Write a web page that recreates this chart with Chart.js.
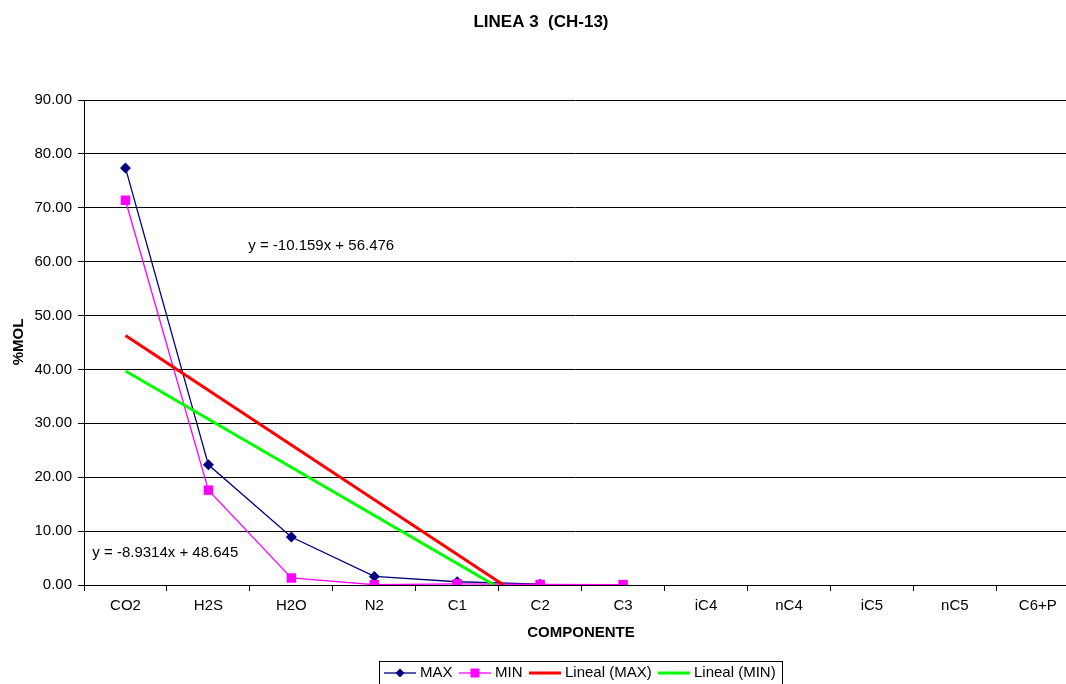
<!DOCTYPE html>
<html>
<head>
<meta charset="utf-8">
<script src="https://cdn.jsdelivr.net/npm/chart.js@4.4.1/dist/chart.umd.min.js"></script>
<style>
	html, body { margin: 0; padding: 0; background: #fff; overflow: hidden; }
	#wrap { width: 1066px; height: 684px; position: relative; }
</style>
</head>
<body>
<div id="wrap"><canvas id="chart-linea"></canvas></div>
<script>
// data
var componentes = ['CO2', 'H2S', 'H2O', 'N2', 'C1', 'C2', 'C3', 'iC4', 'nC4', 'iC5', 'nC5', 'C6+P'];
var molMax = [77.4, 22.3, 8.9, 1.6, 0.6, 0.15, null, null, null, null, null, null];
var molMin = [71.4, 17.6, 1.3, 0.05, 0.2, 0.1, 0.08, null, null, null, null, null];
// trend line coefficients [slope, intercept]
var linealMax = [-10.159, 56.476];
var linealMin = [-8.9314, 48.645];
var yTicks = [0, 10, 20, 30, 40, 50, 60, 70, 80, 90];

var FONT = 'Arial, "Liberation Sans", sans-serif';

function toPoints(arr) {
	var pts = [];
	arr.forEach(function(v, i) {
		if (v !== null) pts.push({x: i + 1, y: v});
	});
	return pts;
}

function trendPoints(coef) {
	// Excel draws the trend over the series range, clipped at the axis minimum
	var x0 = -coef[1] / coef[0];
	return [{x: 1, y: coef[0] + coef[1]}, {x: x0, y: 0}];
}

function eqText(coef) {
	return 'y = ' + coef[0] + 'x + ' + coef[1].toFixed(3);
}

var textPlugin = {
	id: 'textPlugin',
	afterDraw: function(chart) {
		var ctx = chart.ctx;
		var xs = chart.scales.x, ys = chart.scales.y;
		ctx.save();
		ctx.fillStyle = '#000';

		// title
		ctx.font = 'bold 17px ' + FONT;
		ctx.textAlign = 'center';
		ctx.textBaseline = 'middle';
		ctx.fillText('LINEA 3  (CH-13)', 541, 22);

		// axis titles
		ctx.font = 'bold 15px ' + FONT;
		ctx.fillText('COMPONENTE', 581, 633);
		ctx.save();
		ctx.translate(19, 342);
		ctx.rotate(-Math.PI / 2);
		ctx.fillText('%MOL', 0, 0);
		ctx.restore();

		// equations
		ctx.font = '15px ' + FONT;
		ctx.textAlign = 'left';
		ctx.fillText(eqText(linealMax), xs.getPixelForValue(2.48), ys.getPixelForValue(62.9));
		ctx.fillText(eqText(linealMin), xs.getPixelForValue(0.6), ys.getPixelForValue(5.9));

		// legend
		ctx.strokeStyle = '#000';
		ctx.lineWidth = 1;
		ctx.strokeRect(379.5, 661.5, 403, 30);
		var ly = 673;
		var items = [
			{x: 384, text: 'MAX', color: '#000080', w: 1.3, mark: 'diamond'},
			{x: 459, text: 'MIN', color: '#FF00FF', w: 1.3, mark: 'square'},
			{x: 529, text: 'Lineal (MAX)', color: '#FF0000', w: 3, mark: null},
			{x: 658, text: 'Lineal (MIN)', color: '#00FF00', w: 3, mark: null}
		];
		items.forEach(function(it) {
			ctx.strokeStyle = it.color;
			ctx.lineWidth = it.w;
			ctx.beginPath();
			ctx.moveTo(it.x, ly);
			ctx.lineTo(it.x + 32, ly);
			ctx.stroke();
			ctx.fillStyle = it.color;
			var cx = it.x + 16;
			if (it.mark == 'diamond') {
				ctx.beginPath();
				ctx.moveTo(cx, ly - 4.5);
				ctx.lineTo(cx + 4.5, ly);
				ctx.lineTo(cx, ly + 4.5);
				ctx.lineTo(cx - 4.5, ly);
				ctx.closePath();
				ctx.fill();
			} else if (it.mark == 'square') {
				ctx.fillRect(cx - 4.5, ly - 4.5, 9, 9);
			}
			ctx.fillStyle = '#000';
			ctx.font = '15px ' + FONT;
			ctx.textAlign = 'left';
			ctx.fillText(it.text, it.x + 36, ly);
		});
		ctx.restore();
	}
};

var config = {
	type: 'line',
	data: {
		datasets: [
			{
				label: 'Lineal (MIN)',
				data: trendPoints(linealMin),
				borderColor: '#00FF00',
				borderWidth: 3,
				pointRadius: 0,
				order: 1
			},
			{
				label: 'Lineal (MAX)',
				data: trendPoints(linealMax),
				borderColor: '#FF0000',
				borderWidth: 3,
				pointRadius: 0,
				order: 2
			},
			{
				label: 'MIN',
				data: toPoints(molMin),
				borderColor: '#FF00FF',
				backgroundColor: '#FF00FF',
				borderWidth: 1.3,
				pointStyle: 'rect',
				pointRadius: 6.7,
				pointBorderWidth: 0,
				order: 3
			},
			{
				label: 'MAX',
				data: toPoints(molMax),
				borderColor: '#000080',
				backgroundColor: '#000080',
				borderWidth: 1.3,
				pointStyle: 'rectRot',
				pointRadius: 5.5,
				pointBorderWidth: 0,
				order: 4
			}
		]
	},
	options: {
		responsive: false,
		animation: false,
		devicePixelRatio: 1,
		layout: {
			autoPadding: false,
			padding: { top: 100, left: 0, right: 0, bottom: 0 }
		},
		plugins: {
			legend: { display: false },
			title: { display: false },
			tooltip: { enabled: false }
		},
		scales: {
			x: {
				type: 'linear',
				min: 0.5,
				max: 12.34,
				afterBuildTicks: function(scale) {
					var t = [];
					for (var v = 0.5; v <= 12.0; v += 0.5) t.push({value: v});
					scale.ticks = t;
				},
				afterFit: function(scale) {
					scale.height = 99;
					scale.paddingLeft = 0;
					scale.paddingRight = 0;
				},
				ticks: {
					autoSkip: false,
					maxRotation: 0,
					color: '#000',
					padding: 6,
					font: { family: FONT, size: 15 },
					callback: function(v) {
						return (v % 1 === 0) ? componentes[v - 1] : '';
					}
				},
				grid: {
					drawOnChartArea: false,
					tickLength: 6,
					tickColor: function(c) {
						return (c.tick && c.tick.value % 1 !== 0) ? '#000' : 'rgba(0,0,0,0)';
					}
				},
				border: { color: '#000', width: 1 }
			},
			y: {
				min: 0,
				max: 90,
				afterBuildTicks: function(scale) {
					scale.ticks = yTicks.map(function(v) { return {value: v}; });
				},
				afterFit: function(scale) { scale.width = 84; },
				ticks: {
					color: '#000',
					padding: 6,
					font: { family: FONT, size: 15 },
					callback: function(v) { return v.toFixed(2); }
				},
				grid: {
					color: '#000',
					lineWidth: 1,
					tickLength: 6,
					tickColor: '#000'
				},
				border: { color: '#000', width: 1 }
			}
		}
	},
	plugins: [textPlugin]
};

var canvas = document.getElementById('chart-linea');
canvas.width = 1066;
canvas.height = 684;
var chartLinea = new Chart(canvas.getContext('2d'), config);
</script>
</body>
</html>
